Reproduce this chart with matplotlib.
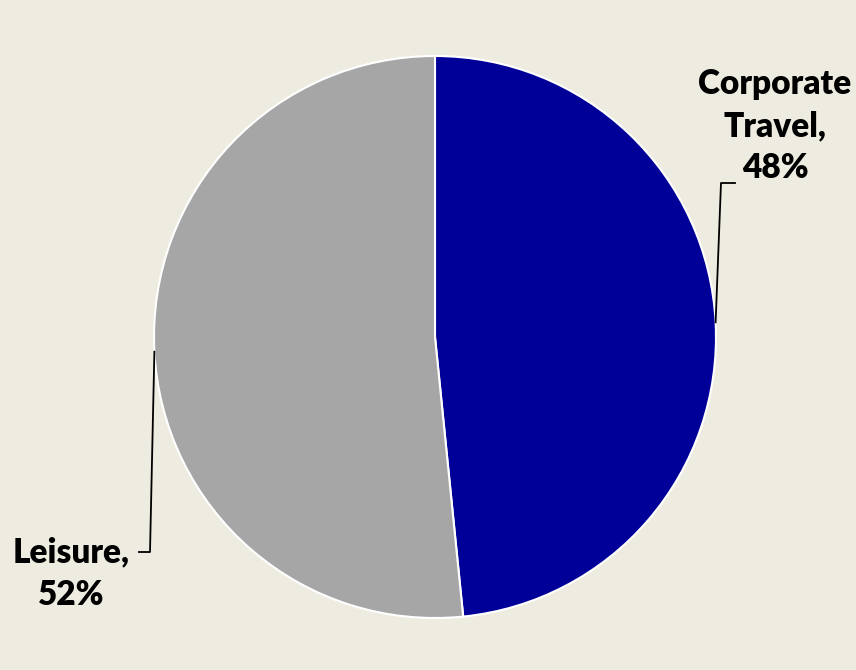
import matplotlib
matplotlib.use("Agg")
import matplotlib.pyplot as plt
import numpy as np

labels = ["Corporate\nTravel,", "Leisure,"]
values = [48.4, 51.6]
colors = ["#000099", "#A6A6A6"]
bg = "#EEECE1"

W, H = 856, 670
fig = plt.figure(figsize=(W/100, H/100), dpi=100, facecolor=bg)
cx, cy, r = 435, 337, 281
ax = fig.add_axes([(cx-r)/W, (H-cy-r)/H, 2*r/W, 2*r/H])
ax.set_facecolor(bg)
ax.pie(values, colors=colors, startangle=90, counterclock=False,
       wedgeprops=dict(edgecolor="white", linewidth=1.5))
ax.set_xlim(-1, 1); ax.set_ylim(-1, 1)
ax.set_aspect("equal")
ax.axis("off")

def d(px, py):
    return ((px-cx)/r, (cy-py)/r)

font = dict(family=["Lato", "DejaVu Sans"], fontweight="heavy", fontsize=24, color="black")

# Corporate leader
a = np.deg2rad(3)
p0 = (np.cos(a), np.sin(a))
p1 = d(721, 183); p2 = d(735, 183)
ax.plot([p0[0], p1[0], p2[0]], [p0[1], p1[1], p2[1]], color="black", lw=1.3, clip_on=False)
t = d(775, 126)
ax.text(t[0], t[1], f"{labels[0]}\n{round(values[0])}%", ha="center", va="center",
        linespacing=1.4, clip_on=False, **font)

# Leisure leader
a = np.deg2rad(183)
p0 = (np.cos(a), np.sin(a))
p1 = d(150, 552); p2 = d(139, 552)
ax.plot([p0[0], p1[0], p2[0]], [p0[1], p1[1], p2[1]], color="black", lw=1.3, clip_on=False)
t = d(71, 574)
ax.text(t[0], t[1], f"{labels[1]}\n{round(values[1])}%", ha="center", va="center",
        linespacing=1.4, clip_on=False, **font)

fig.savefig("out.png", dpi=100, facecolor=bg)
